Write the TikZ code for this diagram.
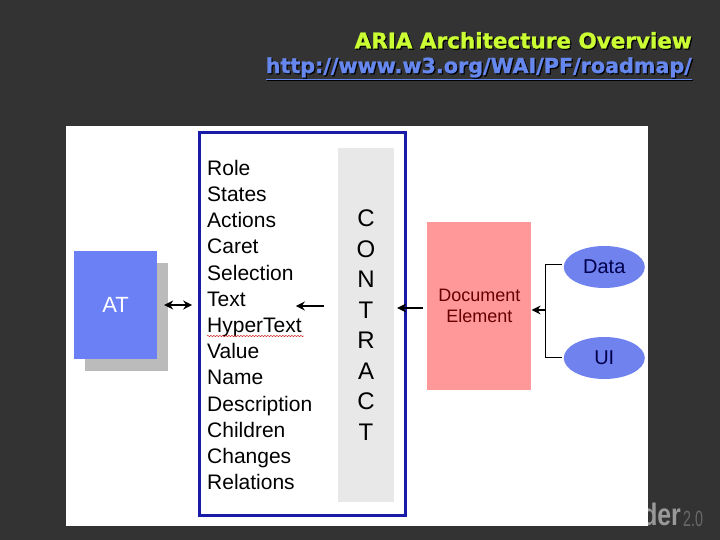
\documentclass[tikz,border=0pt]{standalone}
\usepackage{fontspec}
\setmainfont{Liberation Sans}
\newfontfamily\titlefont[BoldFeatures={FakeBold=1.2}]{DejaVu Sans}
\usetikzlibrary{
	positioning,
	arrows.meta,
	shadows,
	shapes.geometric,
	decorations.pathmorphing
}
\definecolor{slidecolor}{HTML}{333333}
\definecolor{titlecolor}{HTML}{CCFF33}
\definecolor{linkcolor}{HTML}{6688EE}
\definecolor{atcolor}{HTML}{6B80F5}
\definecolor{shadecolor}{HTML}{BBBBBB}
\definecolor{framecolor}{HTML}{1A1AA8}
\definecolor{bandcolor}{HTML}{E8E8E8}
\definecolor{doccolor}{HTML}{FF9999}
\definecolor{ovalcolor}{HTML}{7082EE}
\newcommand{\shadetext}[1]{\makebox[0pt][l]{\kern1.2pt\raisebox{-1.2pt}{\color{black}#1}}#1}
\tikzset{
	titlenode/.style={
		anchor=east,
		inner sep=0pt,
		font=\titlefont\bfseries\fontsize{21.5}{24}\selectfont
	},
	linknode/.style={
		titlenode,
		font=\titlefont\bfseries\fontsize{20.7}{24}\selectfont
	},
	atnode/.style={
		fill=atcolor,
		minimum width=83pt,
		minimum height=108pt,
		inner sep=0pt,
		text=white,
		font=\fontsize{22}{24}\selectfont,
		drop shadow={shadow xshift=11pt,shadow yshift=-11.5pt,opacity=1,fill=shadecolor}
	},
	framenode/.style={
		draw=framecolor,
		line width=3pt,
		minimum width=206pt,
		minimum height=382pt,
		inner sep=0pt
	},
	bandnode/.style={
		fill=bandcolor,
		minimum width=56pt,
		minimum height=354pt,
		inner sep=0pt,
		align=center,
		font=\fontsize{24}{30.5}\selectfont
	},
	docnode/.style={
		fill=doccolor,
		minimum width=104pt,
		minimum height=168pt,
		inner sep=0pt,
		align=center,
		text=red!40!black,
		font=\fontsize{18}{21.5}\selectfont
	},
	ovalnode/.style={
		shape=ellipse,
		fill=ovalcolor,
		minimum width=81pt,
		minimum height=42pt,
		inner sep=0pt,
		text=blue!30!black,
		font=\fontsize{20}{24}\selectfont
	},
	arrow/.style={
		-{Stealth[length=9pt,width=9pt]},
		color=black,
		line width=1.2pt
	},
	bothways/.style={
		{Stealth[length=9pt,width=9pt]}-{Stealth[length=9pt,width=9pt]},
		color=black,
		line width=1.2pt
	},
	wire/.style={
		color=black,
		line width=1pt
	}
}

\begin{document}
\begin{tikzpicture}[x=1pt,y=1pt]
	\useasboundingbox (0,0) rectangle (720,-540);
	\fill[slidecolor] (0,0) rectangle (720,-540);
	
	% Watermark
	\node[anchor=south east, inner sep=0pt, text=gray!80, xscale=0.8, font=\bfseries\fontsize{31}{31}\selectfont] (mark) at (681,-526) {der};
	\node[anchor=south west, inner sep=0pt, text=gray!70!slidecolor, xscale=0.65, font=\fontsize{22}{22}\selectfont] (version) at (683,-527) {2.0};
	
	% Panel
	\node[fill=white, minimum width=582pt, minimum height=400pt, inner sep=0pt] (panel) at (357,-326) {};
	
	% Title
	\node[titlenode, text=titlecolor] (title) at (692,-41) {\shadetext{ARIA Architecture Overview}};
	\node[linknode, text=linkcolor] (link) at ([yshift=-28pt]title.east)
	{\shadetext{\underline{http://www.w3.org/WAI/PF/roadmap/}}};
	
	% Row 1
	\node[atnode] (at) at (115.5,-305) {AT};
	
	\node[framenode, right=41pt of at, yshift=-19pt] (frame) {};
	
	\node[bandnode, anchor=east, xshift=-13pt, yshift=-1pt] (contract) at (frame.east)
	{C\\O\\N\\T\\R\\A\\C\\T};
	
	\node[anchor=west, inner sep=0pt, align=left, font=\fontsize{21}{26.2}\selectfont] (items) at (207,-325)
	{Role\\States\\Actions\\Caret\\Selection\\Text\\HyperText\\Value\\Name\\Description\\Children\\Changes\\Relations};
	
	\node[docnode, right=20pt of frame, yshift=18pt] (doc) {Document\\Element};
	
	\node[ovalnode, right=32pt of doc, yshift=39pt] (data) {Data};
	\node[ovalnode, right=32pt of doc, yshift=-52pt] (ui) {UI};
	
	% Spell check mark
	\draw[red!80!black, line width=0.4pt, decorate, decoration={snake, amplitude=0.6pt, segment length=3pt}]
	(207,-336) -- (304,-336);
	
	% Arrows
	\draw[bothways] ([xshift=7pt]at.east) -- ([xshift=-6pt,yshift=19pt]frame.west);
	\draw[arrow] ([xshift=-14pt,yshift=19pt]contract.west) -- ([xshift=-42pt,yshift=19pt]contract.west);
	\draw[arrow] ([xshift=-4pt,yshift=-2pt]doc.west) -- ([xshift=3pt,yshift=17pt]contract.east);
	
	% Connection between ovals and document
	\coordinate (joint) at ([xshift=14pt,yshift=-4pt]doc.east);
	\draw[wire] ([xshift=-2pt,yshift=3pt]data.west) -| (joint);
	\draw[wire] ([xshift=-2pt,yshift=1pt]ui.west) -| (joint);
	\draw[arrow] (joint) -- (doc.east |- joint);
	
\end{tikzpicture}
\end{document}
